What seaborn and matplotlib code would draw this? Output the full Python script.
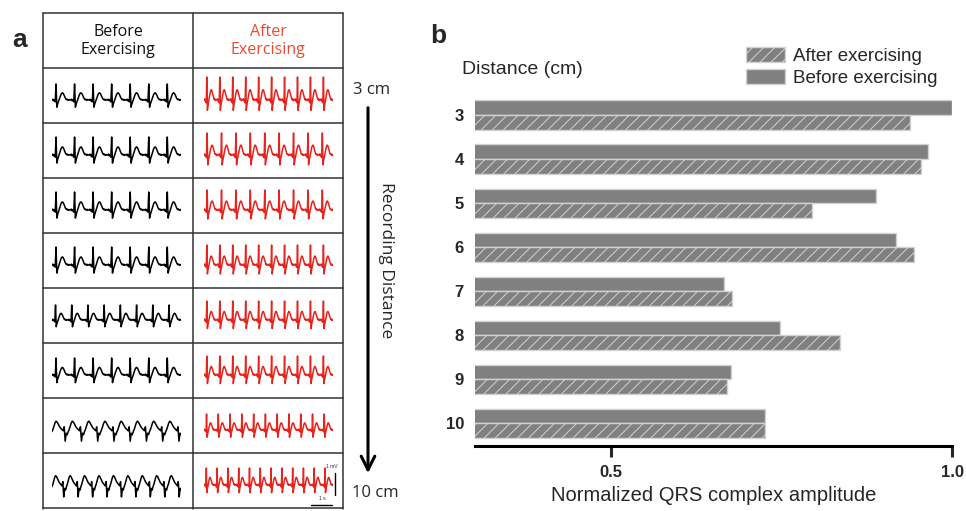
import numpy as np
import pandas as pd
import matplotlib
matplotlib.use("Agg")
import matplotlib.pyplot as plt
import matplotlib.patches as mpatches
import seaborn as sns

# panel b data
distances = ["3", "4", "5", "6", "7", "8", "9", "10"]
before_amp = [1.0, 0.965, 0.889, 0.918, 0.666, 0.747, 0.676, 0.725]
after_amp = [0.938, 0.954, 0.794, 0.944, 0.677, 0.835, 0.670, 0.725]

# panel a: one heartbeat sketched from the traces, repeated in each cell
beat_up = [0.0, 0.05, -0.05, 0.02, -0.12, 1.0, -0.45, -0.25, -0.1, 0.05,
           0.2, 0.33, 0.42, 0.45, 0.4, 0.3, 0.18, 0.08, 0.02, 0.05, -0.02,
           0.03, 0.0]
beat_down = [-0.1, 0.05, 0.25, 0.45, 0.55, 0.5, 0.38, 0.25, 0.15, 0.08,
             0.0, -0.05, 0.2, -0.7, -0.2, -0.3]
before_beats = [7, 7, 7, 7, 8, 7, 8, 9]
after_beats = [10, 9, 9, 10, 10, 10, 11, 12]
before_sign = [1, 1, 1, 1, 1, 1, -1, -1]
before_scale = [0.8, 0.9, 0.9, 0.9, 0.75, 0.85, 0.8, 0.85]
after_scale = [1.15, 1.1, 1.0, 1.0, 0.95, 0.95, 0.8, 0.85]
row_labels = ["3 cm", "10 cm"]

W, H = 966, 511
GRAY = "#808080"
EDGE = "#d2d2d2"
RED = "#e8231c"


def box(x0, y0, x1, y1):
    return [x0 / W, 1 - y1 / H, (x1 - x0) / W, (y1 - y0) / H]


sns.set_theme(style="white")
plt.rcParams["font.family"] = ["Liberation Sans", "DejaVu Sans"]
plt.rcParams["hatch.linewidth"] = 0.7

fig = plt.figure(figsize=(9.66, 5.11), dpi=100)

# ---- panel a: table of traces ----
ax_a = fig.add_axes([0, 0, 1, 1])
ax_a.set_xlim(0, W)
ax_a.set_ylim(H, 0)
ax_a.axis("off")
for x in [43, 193, 343]:
    ax_a.plot([x, x], [13, 509], color="#333333", lw=1.1)
for k in range(10):
    y = 13 + 55 * k
    ax_a.plot([43, 343], [y, y], color="#333333", lw=1.1)

cal = "Open Sans"
ax_a.text(118, 41, "Before\nExercising", ha="center", va="center",
          fontsize=11.5, family=cal, linespacing=1.25, color="#111111")
ax_a.text(268, 41, "After\nExercising", ha="center", va="center",
          fontsize=11.5, family=cal, linespacing=1.25, color="#ee4a2e")
ax_a.text(12, 40, "a", fontsize=19, fontweight="bold", va="center")
ax_a.text(430, 36, "b", fontsize=19, fontweight="bold", va="center")

ax_a.text(353, 90, row_labels[0], fontsize=12, family=cal, va="center")
ax_a.text(352, 493, row_labels[1], fontsize=12, family=cal, va="center")
ax_a.annotate("", xy=(368, 476), xytext=(368, 105),
              arrowprops=dict(arrowstyle="->,head_length=0.7,head_width=0.35",
                              lw=2.2, color="black", mutation_scale=14))
ax_a.text(386, 260, "Recording Distance", rotation=270, ha="center",
          va="center", fontsize=12.5, family=cal)

# scale bars in the last cell
ax_a.plot([335, 335], [473, 495], color="black", lw=1)
ax_a.text(332, 469, "1 mV", fontsize=3.5, ha="center", va="bottom")
ax_a.plot([311, 332], [505, 505], color="black", lw=1)
ax_a.text(322, 501, "1 s", fontsize=3.5, ha="center", va="bottom")

for i in range(8):
    top = 68 + 55 * i
    cells = [
        (52, 181, beat_up if before_sign[i] > 0 else beat_down,
         before_beats[i], before_scale[i], "black"),
        (204, 333, beat_up, after_beats[i], after_scale[i], RED),
    ]
    for x0, x1, beat, n, s, c in cells:
        cax = fig.add_axes(box(x0, top + 8, x1, top + 47))
        trace = np.tile(np.array(beat) * s, n)
        sns.lineplot(x=np.arange(len(trace)), y=trace, ax=cax, color=c,
                     lw=1.1)
        cax.set_ylim(-0.75, 1.2)
        cax.set_xlim(0, len(trace) - 1)
        cax.axis("off")

# ---- panel b: bar chart ----
df = pd.DataFrame({
    "Distance": distances * 2,
    "Amplitude": before_amp + after_amp,
    "Condition": ["Before exercising"] * 8 + ["After exercising"] * 8,
})
ax_b = fig.add_axes(box(475, 93, 952, 446))
sns.barplot(data=df, x="Amplitude", y="Distance", hue="Condition",
            order=distances, hue_order=["Before exercising", "After exercising"],
            palette=[GRAY, GRAY], saturation=1, width=0.66, orient="h",
            edgecolor=EDGE, linewidth=1, legend=False, ax=ax_b)
for bar in ax_b.containers[1]:
    bar.set_hatch("///")

ax_b.set_xlim(0.3, 1.0)
ax_b.set_ylim(7.52, -0.5)
ax_b.set_xticks([0.5, 1.0])
ax_b.set_xticklabels(["0.5", "1.0"], fontsize=12, fontweight="bold")
ax_b.set_yticks(range(len(distances)))
ax_b.set_yticklabels(distances, fontsize=12, fontweight="bold")
ax_b.tick_params(axis="x", direction="out", length=8, width=2.2, pad=6,
                 bottom=True)
ax_b.tick_params(axis="y", length=0, pad=8)
ax_b.set_xlabel("Normalized QRS complex amplitude", fontsize=14.5, labelpad=4)
ax_b.set_ylabel("")
for side in ["top", "right", "left"]:
    ax_b.spines[side].set_visible(False)
ax_b.spines["bottom"].set_linewidth(2.2)
ax_b.spines["bottom"].set_color("black")
ax_b.patch.set_alpha(0)

fig.text(462 / W, 1 - 70 / H, "Distance (cm)", fontsize=14, va="center")

handles = [
    mpatches.Patch(facecolor=GRAY, edgecolor=EDGE, hatch="///"),
    mpatches.Patch(facecolor=GRAY, edgecolor=EDGE),
]
fig.legend(handles, ["After exercising", "Before exercising"],
           loc="upper left", bbox_to_anchor=(746 / W, 1 - 47 / H),
           frameon=False, fontsize=13.5, handlelength=2.1, handleheight=0.85,
           handletextpad=0.4, labelspacing=0.22, borderpad=0,
           borderaxespad=0)

fig.savefig("out.png", dpi=100)
